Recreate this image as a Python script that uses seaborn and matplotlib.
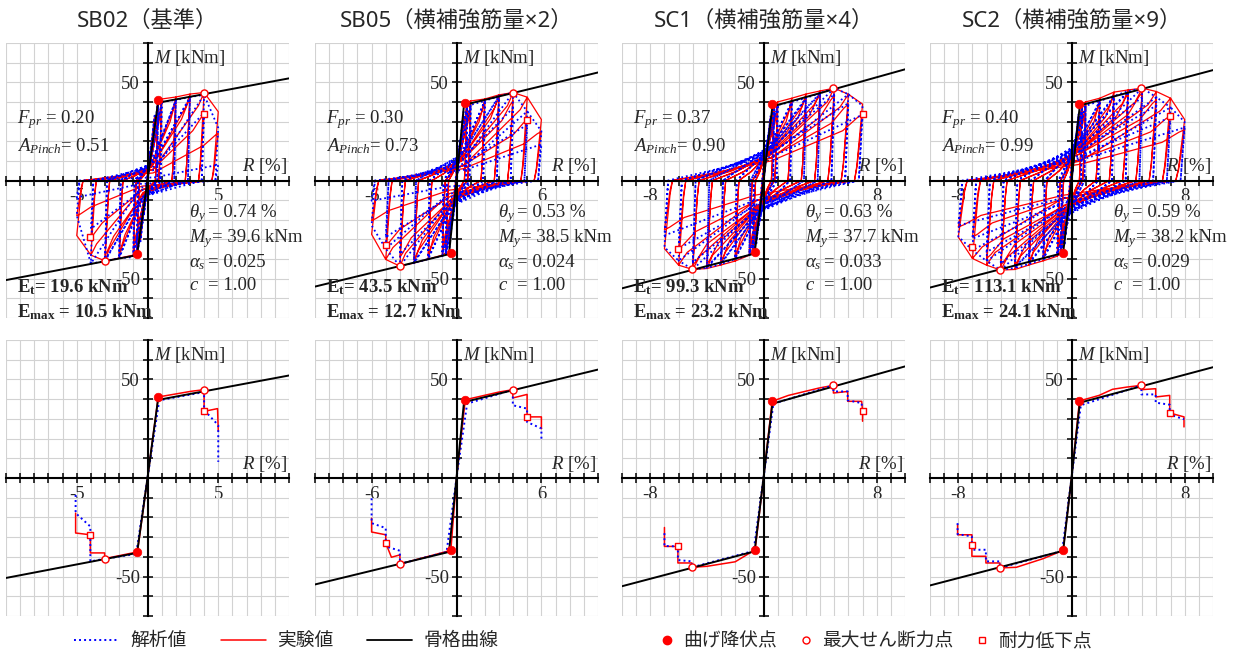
import numpy as np
import pandas as pd
import matplotlib
matplotlib.use('Agg')
import matplotlib.pyplot as plt
from matplotlib.lines import Line2D
from matplotlib.font_manager import FontProperties
import seaborn as sns

sns.set_theme(style='white')
plt.rcParams['font.family'] = ['Liberation Serif', 'DejaVu Serif']
plt.rcParams['mathtext.fontset'] = 'custom'
plt.rcParams['mathtext.rm'] = 'Liberation Serif'
plt.rcParams['mathtext.it'] = 'Liberation Serif:italic'
plt.rcParams['mathtext.bf'] = 'Liberation Serif:bold'
plt.rcParams['axes.unicode_minus'] = False

CJK = ['Noto Sans CJK JP', 'DejaVu Sans']
TITLE_FONT = ['Noto Sans', 'Noto Sans CJK JP']

# ---- titles and parameters ----
titles = ['SB02（基準）', 'SB05（横補強筋量×2）', 'SC1（横補強筋量×4）', 'SC2（横補強筋量×9）']
x_label_tick = [5, 6, 8, 8]
F_pr = [0.20, 0.30, 0.37, 0.40]
A_pinch = [0.51, 0.73, 0.90, 0.99]
theta_y = [0.74, 0.53, 0.63, 0.59]
M_y = [39.6, 38.5, 37.7, 38.2]
alpha_s = [0.025, 0.024, 0.033, 0.029]
c_val = [1.00, 1.00, 1.00, 1.00]
E_t = [19.6, 43.5, 99.3, 113.1]
E_max = [10.5, 12.7, 23.2, 24.1]

# ---- skeleton curves (R %, M kNm) ----
SB02_skel_R = [-10, -0.74, 0, 0.74, 10]
SB02_skel_M = [-50.7, -38.0, 0, 39.6, 52.0]
SB05_skel_R = [-10, -0.53, 0, 0.53, 10]
SB05_skel_M = [-54.0, -37.5, 0, 38.5, 55.0]
SC1_skel_R = [-10, -0.63, 0, 0.63, 10]
SC1_skel_M = [-54.9, -37.2, 0, 37.7, 56.6]
SC2_skel_R = [-10, -0.59, 0, 0.59, 10]
SC2_skel_M = [-54.5, -36.9, 0, 38.2, 56.2]

# ---- cycle peaks (hysteresis, top row) ----
SB02_amp = [0.25, 0.5, 0.75, 0.75, 1, 1, 2, 2, 3, 3, 4, 4, 5, 5]
SB02_exp_mp = [17, 32, 41, 38, 41.5, 39, 42.5, 40, 44, 41.5, 44.8, 33.8, 35, 24]
SB02_exp_mn = [-16, -30, -37.5, -35, -38, -36, -39.5, -37, -40.9, -38, -38, -28.8, -28, -18]
SB02_ana_mp = [18, 33, 39.4, 39, 40, 39.5, 41, 40.5, 42.5, 42, 43.6, 34.5, 26.8, 8]
SB02_ana_mn = [-17, -31, -38.5, -38, -39, -38.5, -39.5, -39, -41, -40.5, -42.3, -24.6, -17.8, -8.6]

SB05_amp = [0.25, 0.5, 0.75, 0.75, 1, 1, 2, 2, 3, 3, 4, 4, 5, 5, 6, 6]
SB05_exp_mp = [20, 34, 39.7, 38, 40.5, 39, 41.5, 40, 43.6, 42, 44.8, 40.6, 42.4, 31, 31, 25]
SB05_exp_mn = [-18, -32, -36.7, -35, -38, -36.5, -40, -38, -42, -40, -43.6, -38.9, -40.2, -33, -27.4, -20.4]
SB05_ana_mp = [21, 35, 37.7, 37.5, 38.5, 38, 40.5, 40, 43, 42.5, 44.8, 36.9, 35.2, 28.4, 25.1, 18.4]
SB05_ana_mn = [-20, -34, -37.5, -37, -38.5, -38, -40, -39.5, -42, -41.5, -43.6, -37.5, -34.7, -28.8, -22.9, -10.3]

SC1_amp = [0.25, 0.5, 0.75, 0.75, 1, 1, 2, 2, 3, 3, 4, 4, 5, 5, 6, 6, 7, 7]
SC1_exp_mp = [18, 32, 38.9, 37, 40, 38.5, 41.9, 40, 44, 42, 45.6, 43.5, 47, 43.1, 43.9, 38.9, 38.9, 33.8]
SC1_exp_mn = [-17, -30, -36.4, -35, -38, -36.5, -41, -39, -43, -41, -44.8, -42.5, -45.3, -43.1, -43.1, -34.7, -34.7, -25.1]
SC1_ana_mp = [19, 33, 37.7, 37.5, 38.5, 38, 40, 39.5, 42, 41.5, 44.5, 44, 47, 43.9, 43.9, 39.4, 38, 33.5]
SC1_ana_mn = [-18, -32, -37, -36.5, -38, -37.5, -40, -39.5, -42.5, -42, -44.5, -44, -45.3, -41.6, -40.8, -34.7, -34, -28]

SC2_amp = [0.25, 0.5, 0.75, 0.75, 1, 1, 2, 2, 3, 3, 4, 4, 5, 5, 6, 6, 7, 7, 8, 8]
SC2_exp_mp = [18, 33, 39.1, 37.5, 40, 38.5, 41.9, 40, 45, 43, 46.1, 44, 47, 44.8, 45.3, 41.1, 41.9, 33, 31, 25.9]
SC2_exp_mn = [-17, -31, -36.7, -35.5, -38.5, -37, -40.9, -39, -43, -41, -45.3, -43, -45.6, -43.1, -43.1, -39.7, -39.7, -28.8, -28.8, -23.7]
SC2_ana_mp = [19, 34, 36.9, 36.5, 38, 37.5, 40.5, 40, 43, 42.5, 45.5, 45, 47, 42.4, 42.4, 38.2, 37.2, 32.2, 29.8, 27]
SC2_ana_mn = [-18, -33, -37, -36.5, -38, -37.5, -40, -39.5, -42.5, -42, -44.5, -44, -45.6, -42.3, -41, -36.4, -35.5, -29.6, -28.5, -22.9]

# ---- envelope curves (bottom row) ----
SB02_env_exp_R = [-5.08, -5.08, -4.04, -4.04, -3.03, -3.03, -0.71, 0, 0.76, 3.1, 4.0, 4.0, 4.95, 5.0]
SB02_env_exp_M = [-17.8, -27.9, -28.8, -38.0, -38.0, -40.9, -37.5, 0, 41.1, 44.0, 44.8, 33.8, 35.2, 24.0]
SB02_env_ana_R = [-5.08, -5.08, -4.04, -4.04, -3.03, -0.8, 0, 0.83, 4.0, 4.0, 5.0, 5.0]
SB02_env_ana_M = [-8.6, -17.8, -24.6, -42.3, -41.0, -38.5, 0, 39.4, 43.6, 34.5, 26.8, 8.2]

SB05_env_exp_R = [-6.0, -6.0, -5.0, -5.0, -4.6, -4.0, -4.0, -0.4, 0, 0.62, 3.0, 3.98, 3.98, 4.99, 4.99, 6.0, 6.0]
SB05_env_exp_M = [-20.4, -27.4, -28.8, -33.0, -40.2, -39.0, -43.6, -36.7, 0, 39.7, 43.6, 44.8, 40.6, 42.4, 31.0, 31.0, 25.0]
SB05_env_ana_R = [-6.0, -6.0, -5.0, -5.0, -4.0, -4.0, -0.7, 0, 0.75, 3.98, 3.98, 4.99, 4.99, 6.0, 6.0]
SB05_env_ana_M = [-10.3, -22.9, -25.4, -34.7, -36.9, -43.6, -37.5, 0, 37.7, 44.8, 36.9, 35.2, 28.4, 25.1, 18.4]

SC1_env_exp_R = [-7.0, -7.0, -6.05, -6.05, -5.06, -5.06, -4.0, -2.0, -0.59, 0, 0.61, 1.76, 3.9, 4.94, 4.94, 5.95, 5.95, 6.94, 7.0, 7.0]
SC1_env_exp_M = [-25.1, -34.7, -34.7, -43.1, -43.1, -45.3, -44.8, -42.5, -36.4, 0, 38.9, 41.9, 45.6, 47.0, 43.1, 43.9, 38.9, 38.9, 33.8, 28.8]
SC1_env_ana_R = [-7.0, -7.0, -6.05, -6.05, -5.06, -5.06, -0.7, 0, 0.7, 4.94, 4.94, 5.95, 5.95, 6.94, 6.94]
SC1_env_ana_M = [-28.0, -34.5, -34.7, -41.6, -42.3, -45.3, -37.0, 0, 37.7, 47.0, 43.9, 43.9, 39.4, 38.0, 33.5]

SC2_env_exp_R = [-8.05, -8.05, -7.04, -7.04, -6.05, -6.05, -5.06, -5.06, -3.9, -2.0, -0.59, 0, 0.56, 1.95, 2.9, 3.9,
                 4.94, 4.94, 5.95, 5.95, 6.94, 6.94, 7.95, 7.95]
SC2_env_exp_M = [-23.7, -28.8, -28.8, -39.7, -39.7, -43.1, -43.1, -45.6, -45.3, -40.9, -36.7, 0, 39.1, 41.9, 45.0, 46.1,
                 47.0, 44.8, 45.3, 41.1, 41.9, 33.0, 31.0, 25.9]
SC2_env_ana_R = [-8.05, -8.05, -7.04, -7.04, -6.05, -6.05, -5.06, -5.06, -0.66, 0, 0.66, 4.94, 4.94, 5.95, 5.95, 6.94, 6.94, 7.95]
SC2_env_ana_M = [-22.9, -28.5, -29.6, -36.4, -36.4, -42.3, -42.3, -45.6, -37.0, 0, 36.9, 47.0, 42.4, 42.4, 38.2, 37.2, 32.2, 29.8]

# ---- characteristic points ----
SB02_yield = ([0.76, -0.71], [41.1, -37.5])
SB02_peak = ([4.0, -3.03], [44.8, -40.9])
SB02_drop = ([4.0, -4.04], [33.8, -28.8])
SB05_yield = ([0.62, -0.4], [39.7, -36.7])
SB05_peak = ([3.98, -4.0], [44.8, -43.6])
SB05_drop = ([4.99, -5.0], [31.0, -33.0])
SC1_yield = ([0.61, -0.59], [38.9, -36.4])
SC1_peak = ([4.94, -5.06], [47.0, -45.3])
SC1_drop = ([7.0, -6.05], [33.8, -34.7])
SC2_yield = ([0.56, -0.59], [39.1, -36.7])
SC2_peak = ([4.94, -5.06], [47.0, -45.6])
SC2_drop = ([6.94, -7.04], [33.0, -33.8])

specs = [
    dict(skel=(SB02_skel_R, SB02_skel_M), amp=SB02_amp, exp=(SB02_exp_mp, SB02_exp_mn), ana=(SB02_ana_mp, SB02_ana_mn),
         env_exp=(SB02_env_exp_R, SB02_env_exp_M), env_ana=(SB02_env_ana_R, SB02_env_ana_M),
         pts=(SB02_yield, SB02_peak, SB02_drop)),
    dict(skel=(SB05_skel_R, SB05_skel_M), amp=SB05_amp, exp=(SB05_exp_mp, SB05_exp_mn), ana=(SB05_ana_mp, SB05_ana_mn),
         env_exp=(SB05_env_exp_R, SB05_env_exp_M), env_ana=(SB05_env_ana_R, SB05_env_ana_M),
         pts=(SB05_yield, SB05_peak, SB05_drop)),
    dict(skel=(SC1_skel_R, SC1_skel_M), amp=SC1_amp, exp=(SC1_exp_mp, SC1_exp_mn), ana=(SC1_ana_mp, SC1_ana_mn),
         env_exp=(SC1_env_exp_R, SC1_env_exp_M), env_ana=(SC1_env_ana_R, SC1_env_ana_M),
         pts=(SC1_yield, SC1_peak, SC1_drop)),
    dict(skel=(SC2_skel_R, SC2_skel_M), amp=SC2_amp, exp=(SC2_exp_mp, SC2_exp_mn), ana=(SC2_ana_mp, SC2_ana_mn),
         env_exp=(SC2_env_exp_R, SC2_env_exp_M), env_ana=(SC2_env_ana_R, SC2_env_ana_M),
         pts=(SC2_yield, SC2_peak, SC2_drop)),
]

BLUE_LS = (0, (1, 1.6))


# loop vertices built from the peak of each cycle; a new amplitude first
# heads for the previous peak, then follows the envelope to the new peak
def exp_path(amp, mp, mn, fpr):
    R, M = [0.0], [0.0]
    last_p = last_n = None
    for a, p, n in zip(amp, mp, mn):
        if a < 0.6:
            R += [a, -a]
            M += [p, n]
            continue
        du = min(0.06 * a + 0.15, 0.5 * a)
        R += [0.08 * a]
        M += [0.8 * fpr * p]
        if last_p is not None and a > last_p[0]:
            R += [0.9 * last_p[0], last_p[0]]
            M += [0.85 * last_p[1], last_p[1]]
        else:
            R += [0.8 * a, 0.95 * a]
            M += [0.75 * p, 0.95 * p]
        R += [a, a - 0.7 * du, a - du, 0.5 * (a - du), -0.08 * a]
        M += [p, 0.2 * p, 0.0, 0.3 * fpr * n, 0.8 * fpr * n]
        if last_n is not None and a > last_n[0]:
            R += [-0.9 * last_n[0], -last_n[0]]
            M += [0.85 * last_n[1], last_n[1]]
        else:
            R += [-0.8 * a, -0.95 * a]
            M += [0.75 * n, 0.95 * n]
        R += [-a, -a + 0.7 * du, -a + du, 0.5 * (-a + du)]
        M += [n, 0.2 * n, 0.0, 0.3 * fpr * p]
        if last_p is None or a > last_p[0]:
            last_p, last_n = (a, p), (a, n)
    return R, M


def ana_path(amp, mp, mn, fpr):
    R, M = [0.0], [0.0]
    last_p = last_n = None
    for a, p, n in zip(amp, mp, mn):
        if a < 0.6:
            R += [a, -a]
            M += [p, n]
            continue
        du = 0.05 + 0.03 * a
        R += [0.1 * a]
        M += [fpr * p]
        if last_p is not None and a > last_p[0]:
            R += [last_p[0]]
            M += [last_p[1]]
        R += [a, a - du, -0.1 * a]
        M += [p, 0.0, fpr * n]
        if last_n is not None and a > last_n[0]:
            R += [-last_n[0]]
            M += [last_n[1]]
        R += [-a, -a + du]
        M += [n, 0.0]
        if last_p is None or a > last_p[0]:
            last_p, last_n = (a, p), (a, n)
    return R, M


def line(ax, R, M, **kw):
    df = pd.DataFrame({'R': R, 'M': M})
    sns.lineplot(data=df, x='R', y='M', sort=False, estimator=None, ax=ax, **kw)


def points(ax, pts):
    (yr, ym), (pr, pm), (dr, dm) = pts
    sns.scatterplot(x=yr, y=ym, ax=ax, color='red', edgecolor='red', s=38, marker='o', zorder=6)
    sns.scatterplot(x=pr, y=pm, ax=ax, color='white', edgecolor='red', linewidth=1.0, s=26, marker='o', zorder=6)
    sns.scatterplot(x=dr, y=dm, ax=ax, color='white', edgecolor='red', linewidth=1.0, s=24, marker='s', zorder=6)


def setup(ax, xt):
    ax.set_xlim(-10, 10)
    ax.set_ylim(-70, 70)
    xticks = np.arange(-10, 11, 1)
    yticks = np.arange(-70, 71, 10)
    ax.set_xticks(xticks)
    ax.set_yticks(yticks)
    ax.set_xticklabels([str(v) if abs(v) == xt else '' for v in xticks])
    ax.set_yticklabels([str(v) if abs(v) == 50 else '' for v in yticks])
    ax.grid(True, color='#d2d2d2', lw=0.8)
    ax.set_axisbelow(True)
    ax.spines['left'].set_position(('data', 0))
    ax.spines['bottom'].set_position(('data', 0))
    ax.spines['top'].set_visible(False)
    ax.spines['right'].set_visible(False)
    for s in ('left', 'bottom'):
        ax.spines[s].set_color('black')
        ax.spines[s].set_linewidth(1.5)
        ax.spines[s].set_zorder(4)
    ax.tick_params(direction='inout', length=7, width=1.1, color='black', labelsize=13.5, pad=2,
                   bottom=True, left=True)
    ax.set_xlabel('')
    ax.set_ylabel('')
    ax.text(0.45, 60, r'$M$ [kNm]', fontsize=13.5)
    ax.text(9.85, 4.6, r'$R$ [%]', fontsize=13.5, ha='right')


fig = plt.figure(figsize=(12.34, 6.53), dpi=100)
lefts = [6, 315, 622, 930]
FS = 13.5

for i, sp in enumerate(specs):
    x0 = lefts[i] / 1234
    w = 283 / 1234
    ax_t = fig.add_axes([x0, 1 - 318 / 653, w, 275 / 653])
    ax_b = fig.add_axes([x0, 37 / 653, w, 276 / 653])

    fig.text(x0 + w / 2, 1 - 21 / 653, titles[i], ha='center', va='center', fontsize=16, family=TITLE_FONT)

    # top: hysteresis loops
    eR, eM = exp_path(sp['amp'], sp['exp'][0], sp['exp'][1], F_pr[i])
    aR, aM = ana_path(sp['amp'], sp['ana'][0], sp['ana'][1], F_pr[i])
    line(ax_t, eR, eM, color='red', lw=0.9, zorder=2)
    line(ax_t, aR, aM, color='blue', lw=1.3, linestyle=BLUE_LS, zorder=3)
    line(ax_t, sp['skel'][0], sp['skel'][1], color='black', lw=1.4, zorder=4)
    points(ax_t, sp['pts'])
    setup(ax_t, x_label_tick[i])

    ax_t.text(-9.2, 29, r'$F_{pr}$ = %.2f' % F_pr[i], fontsize=FS)
    ax_t.text(-9.2, 14.9, r'$A_{Pinch}$= %.2f' % A_pinch[i], fontsize=FS)
    ax_t.text(2.9, -18.8, r'$\theta_y$', fontsize=FS)
    ax_t.text(4.3, -18.8, '= %.2f %%' % theta_y[i], fontsize=FS)
    ax_t.text(2.9, -31.5, r'$M_y$', fontsize=FS)
    ax_t.text(4.55, -31.5, '= %.1f kNm' % M_y[i], fontsize=FS)
    ax_t.text(2.9, -44.2, r'$\alpha_s$', fontsize=FS)
    ax_t.text(4.3, -44.2, '= %.3f' % alpha_s[i], fontsize=FS)
    ax_t.text(2.9, -55.9, r'$c$', fontsize=FS)
    ax_t.text(4.3, -55.9, '= %.2f' % c_val[i], fontsize=FS)
    ax_t.text(-9.2, -57.0, r'$\mathbf{E_t}$' + '= %.1f kNm' % E_t[i], fontsize=FS, fontweight='bold', zorder=7)
    ax_t.text(-9.2, -69.8, r'$\mathbf{E_{max}}$' + ' = %.1f kNm' % E_max[i], fontsize=FS, fontweight='bold', zorder=7)

    # bottom: envelopes
    line(ax_b, sp['env_exp'][0], sp['env_exp'][1], color='red', lw=1.1, zorder=2)
    line(ax_b, sp['env_ana'][0], sp['env_ana'][1], color='blue', lw=1.4, linestyle=BLUE_LS, zorder=3)
    line(ax_b, sp['skel'][0], sp['skel'][1], color='black', lw=1.4, zorder=4)
    points(ax_b, sp['pts'])
    setup(ax_b, x_label_tick[i])

# legends
prop = FontProperties(family=CJK, size=13.5)
h1 = [Line2D([], [], color='blue', lw=1.4, ls=BLUE_LS),
      Line2D([], [], color='red', lw=1.1),
      Line2D([], [], color='black', lw=1.3)]
fig.legend(h1, ['解析値', '実験値', '骨格曲線'], loc='center', bbox_to_anchor=(0.232, 0.019), ncol=3,
           frameon=False, prop=prop, handlelength=2.4, handletextpad=0.6, columnspacing=1.8)
h2 = [Line2D([], [], color='red', marker='o', ls='', ms=6),
      Line2D([], [], color='red', marker='o', mfc='white', ls='', ms=5, mew=1.0),
      Line2D([], [], color='red', marker='s', mfc='white', ls='', ms=4.5, mew=1.0)]
fig.legend(h2, ['曲げ降伏点', '最大せん断力点', '耐力低下点'], loc='center', bbox_to_anchor=(0.710, 0.019), ncol=3,
           frameon=False, prop=prop, handlelength=0.7, handletextpad=0.5, columnspacing=1.2)

fig.savefig('out.png', dpi=100)
